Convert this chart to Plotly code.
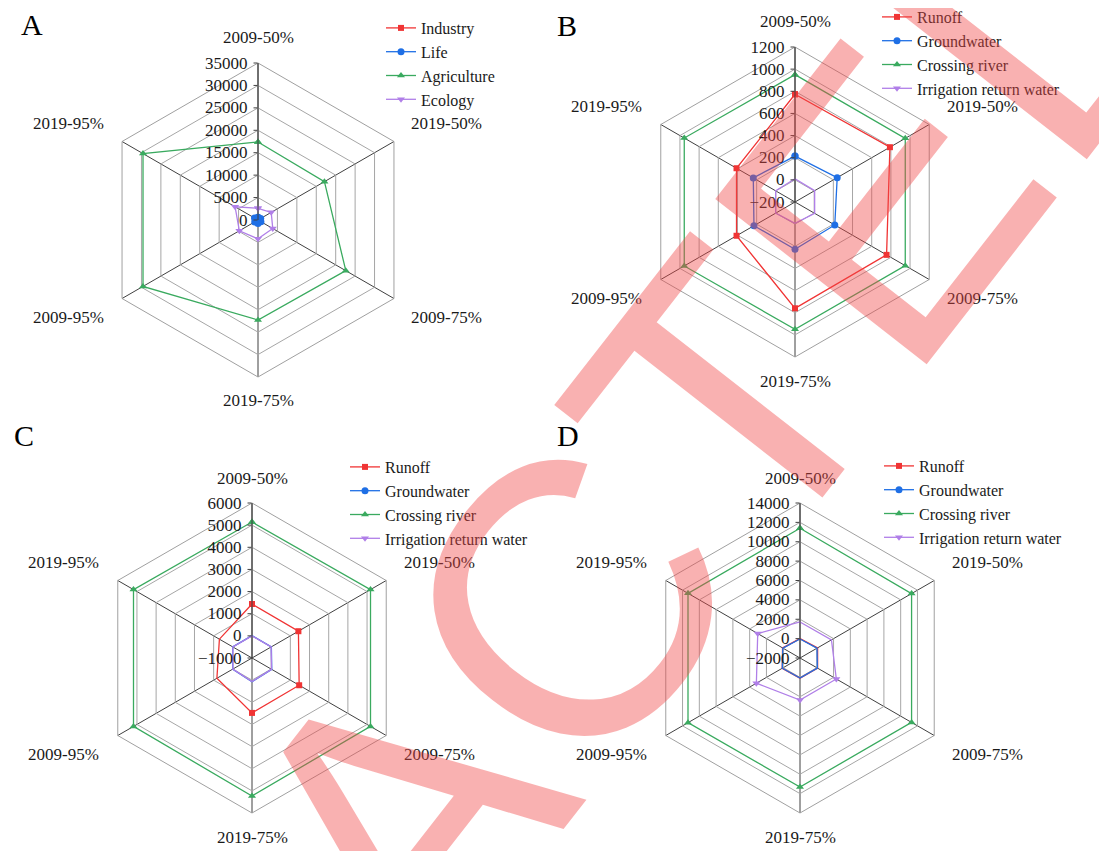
import math
import plotly.graph_objects as go

# categories around the radar (clockwise from the top)
scenarios = ["2009-50%", "2019-50%", "2009-75%", "2019-75%", "2009-95%", "2019-95%"]

# A - water demand
industry = [150, 200, 220, 230, 260, 300]
life = [600, 700, 750, 800, 850, 900]
agriculture = [17400, 17100, 22600, 22300, 29600, 29600]
ecology = [2600, 3400, 3800, 4200, 4800, 5900]

# B
runoff_b = [773, 790, 755, 760, 410, 410]
ground_b = [215, 240, 215, 227, 228, 235]
river_b = [950, 950, 950, 950, 955, 955]
irrig_b = [10, 5, 5, -8, 2, 2]

# C
runoff_c = [1440, 1420, 1460, 1480, 830, 700]
ground_c = [10, 10, 30, 70, 10, 10]
river_c = [5140, 5180, 5180, 5230, 5180, 5180]
irrig_c = [0, 0, 20, 60, 0, 0]

# D
runoff_d = [0, 100, 100, 80, 120, 80]
ground_d = [-40, 30, 70, 65, 110, 50]
river_d = [11400, 11300, 11300, 11320, 11350, 11350]
irrig_d = [1720, 1750, 2330, 2340, 3200, 3040]

RED, BLUE, GREEN, PURPLE = "#f03434", "#1f6fe5", "#3aaa5f", "#b07fe8"
FONT = "Liberation Serif"
TXT = "#1a1a1a"

# page is 1107x851; the html body keeps its default 8px margin
OFF = 8
W, H = 1107 - OFF, 851 - OFF


def px(x):
    return (x - OFF) / W


def py(y):
    return 1 - (y - OFF) / H


fig = go.Figure()


def add_series(polar, legend, name, vals, color, symbol, size):
    fig.add_trace(go.Scatterpolar(
        r=vals + vals[:1], theta=scenarios + scenarios[:1],
        mode="lines+markers", name=name,
        line=dict(color=color, width=1.3),
        marker=dict(symbol=symbol, size=size, color=color),
        subplot=polar, legend=legend,
    ))


panels = [
    ("polar", "legend", [("Industry", industry), ("Life", life),
                         ("Agriculture", agriculture), ("Ecology", ecology)]),
    ("polar2", "legend2", [("Runoff", runoff_b), ("Groundwater", ground_b),
                           ("Crossing river", river_b), ("Irrigation return water", irrig_b)]),
    ("polar3", "legend3", [("Runoff", runoff_c), ("Groundwater", ground_c),
                           ("Crossing river", river_c), ("Irrigation return water", irrig_c)]),
    ("polar4", "legend4", [("Runoff", runoff_d), ("Groundwater", ground_d),
                           ("Crossing river", river_d), ("Irrigation return water", irrig_d)]),
]
styles = [(RED, "square", 6), (BLUE, "circle", 7), (GREEN, "triangle-up", 7), (PURPLE, "triangle-down", 7)]

for polar, legend, series in panels:
    for (name, vals), (c, s, sz) in zip(series, styles):
        add_series(polar, legend, name, vals, c, s, sz)

# center (page px), radius (px), radial range, dtick
geom = {
    "polar": ((258, 220), 157, [0, 35000], 5000),
    "polar2": ((795, 202), 155, [-200, 1200], 200),
    "polar3": ((252, 658), 155, [-1000, 6000], 1000),
    "polar4": ((800, 658), 155, [-2000, 14000], 2000),
}

layout = dict(
    width=W, height=H, margin=dict(l=0, r=0, t=0, b=0, autoexpand=False),
    paper_bgcolor="white", plot_bgcolor="white",
    font=dict(family=FONT, size=16, color=TXT),
)
for key, ((cx, cy), rad, rng, dt) in geom.items():
    layout[key] = dict(
        domain=dict(x=[px(cx - rad), px(cx + rad)], y=[py(cy + rad), py(cy - rad)]),
        gridshape="linear", bgcolor="white",
        angularaxis=dict(rotation=90, direction="clockwise",
                         categoryorder="array", categoryarray=scenarios,
                         gridcolor="#404040", gridwidth=1,
                         showline=True, linecolor="#a0a0a0", linewidth=1,
                         ticks="", showticklabels=False),
        radialaxis=dict(range=rng, dtick=dt, angle=90, tickangle=90, tickformat="d",
                        showline=True, linecolor="#404040", linewidth=1,
                        gridcolor="#a6a6a6", gridwidth=1,
                        ticks="outside", ticklen=4, tickcolor="#404040",
                        side="counterclockwise",
                        tickfont=dict(family=FONT, size=17, color=TXT)),
    )

    # category labels beyond each hexagon vertex
    for k, lab in enumerate(scenarios):
        a = math.radians(90 - 60 * k)
        vx, vy = cx + rad * math.cos(a), cy - rad * math.sin(a)
        if k == 0:
            dx, dy = 0, -25
        elif k == 3:
            dx, dy = 0, 24
        else:
            dx = 53 if k in (1, 2) else -54
            dy = -18 if k in (1, 5) else 19
        fig.add_annotation(text=lab, x=px(vx + dx), y=py(vy + dy),
                           xref="paper", yref="paper", showarrow=False,
                           xanchor="center", yanchor="middle",
                           font=dict(family=FONT, size=17, color=TXT))

legend_pos = {"legend": (381, 11), "legend2": (877, 0), "legend3": (345, 450), "legend4": (879, 449)}
for key, (lx, ly) in legend_pos.items():
    layout[key] = dict(x=px(lx), y=py(ly), xanchor="left", yanchor="top",
                       bgcolor="rgba(0,0,0,0)", font=dict(family=FONT, size=16, color=TXT))

fig.update_layout(**layout)

# panel letters
for letter, (lx, ly) in {"A": (32, 24), "B": (567, 25), "C": (24, 435), "D": (568, 435)}.items():
    fig.add_annotation(text=letter, x=px(lx), y=py(ly), xref="paper", yref="paper",
                       showarrow=False, xanchor="center", yanchor="middle",
                       font=dict(family=FONT, size=30, color="black"))

# retraction watermark
fig.add_annotation(text="RETRACTED", x=px(400), y=py(819), xref="paper", yref="paper",
                   showarrow=False, xanchor="center", yanchor="middle", textangle=-52,
                   font=dict(family="Liberation Sans", size=390, color="rgba(240,70,70,0.42)"))

fig.write_html("out.html")
